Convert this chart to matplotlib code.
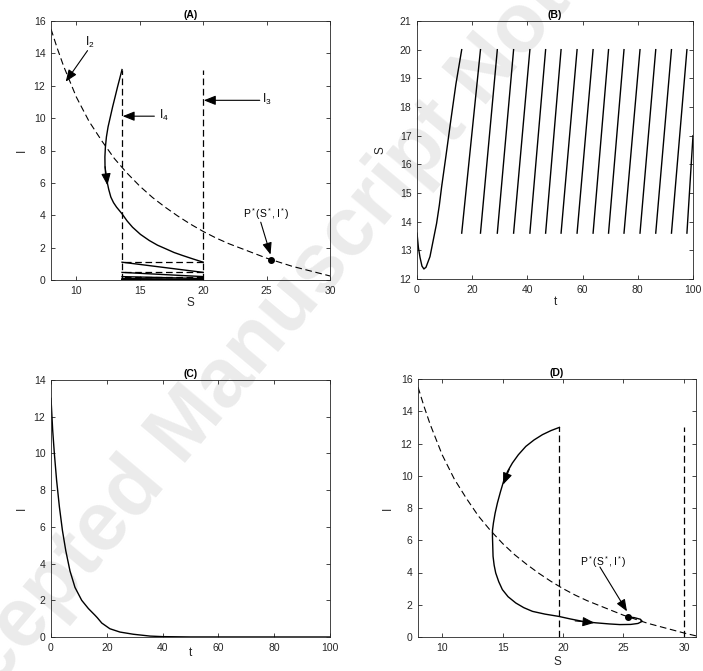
import matplotlib
matplotlib.use('Agg')
import matplotlib.pyplot as plt

plt.rcParams['font.family'] = ['Liberation Sans', 'DejaVu Sans']
plt.rcParams['mathtext.fontset'] = 'custom'
plt.rcParams['mathtext.rm'] = 'Liberation Sans'
plt.rcParams['mathtext.it'] = 'Liberation Sans'
plt.rcParams['lines.scale_dashes'] = False

# ---------------- data ----------------
# dashed isocline I = f(S)
null_S = [8, 8.5, 9, 10, 11, 12, 13, 14, 15, 16, 17, 18, 19, 20, 21, 22, 23, 24, 25, 26, 27, 28, 29, 30, 31]
null_I = [15.5, 14.3, 13.2, 11.3, 9.8, 8.6, 7.5, 6.6, 5.8, 5.1, 4.5, 3.95, 3.45, 3.0, 2.6, 2.25, 1.95,
          1.65, 1.35, 1.1, 0.85, 0.65, 0.45, 0.25, 0.07]
# equilibrium P*
eq_S, eq_I = 25.35, 1.26
I0 = 13.0

# Panel A: impulsive control, thresholds
A_S_low, A_S_high = 13.6, 20.0
trajA_S = [13.6, 13.42, 13.25, 13.05, 12.86, 12.68, 12.5, 12.37, 12.29, 12.25, 12.26, 12.31, 12.4, 12.55,
           12.72, 12.93, 13.17, 13.6, 14.0, 14.43, 15.05, 15.75, 16.4, 17.07, 17.7, 18.39, 19.2, 20.0]
trajA_I = [13.0, 12.45, 11.94, 11.3, 10.7, 10.08, 9.46, 8.84, 8.22, 7.6, 6.98, 6.55, 6.16, 5.6,
           5.12, 4.78, 4.5, 4.09, 3.65, 3.26, 2.82, 2.44, 2.15, 1.92, 1.7, 1.51, 1.3, 1.1]
pulseA_I = [1.1, 0.47, 0.21, 0.09, 0.04, 0.018, 0.008, 0.0035, 0.0015, 0.0007, 0.0003, 0.00013, 0.00006, 0.00003, 0.00001]

# Panel B: S(t)
tB0 = [0, 0.5, 1.1, 1.8, 2.5, 3.26, 4.7, 5.9, 7.1, 8.1, 8.9, 10.5, 12.2, 14.1, 16.2]
SB0 = [13.6, 13.1, 12.75, 12.45, 12.35, 12.41, 12.78, 13.36, 13.94, 14.58, 15.2, 16.3, 17.5, 18.8, 20.0]
pulse_t = [16.2, 23.0, 29.1, 35.0, 40.9, 46.6, 52.2, 58.0, 63.8, 69.4, 75.0, 80.8, 86.5, 92.2, 97.8]
t_end, S_end = 100.0, 17.0

# Panel C: I(t)
tC = [0, 0.6, 1.2, 2.0, 3.0, 4.1, 5.3, 6.8, 8.6, 11.0, 13.4, 15.8, 16.6, 18.2, 21.1, 24.7, 29.5, 35.5, 40, 50, 100]
IC = [13.0, 11.27, 10.0, 8.55, 7.1, 5.8, 4.7, 3.6, 2.7, 2.0, 1.55, 1.18, 1.05, 0.76, 0.45, 0.27, 0.15, 0.05, 0.02, 0.003, 0.0]

# Panel D
D_S_low, D_S_high = 19.7, 30.0
trajD_S = [19.7, 19.0, 18.3, 17.6, 16.92, 16.3, 15.81, 15.42, 15.12, 14.82, 14.57, 14.38, 14.24, 14.16, 14.16,
           14.21, 14.3, 14.43, 14.68, 14.98, 15.45, 16.09, 16.75, 17.47, 18.5, 19.63,
           20.6, 21.62, 22.7, 23.83, 24.7, 25.6, 26.2, 26.55, 26.4, 25.9, 25.35]
trajD_I = [13.0, 12.8, 12.55, 12.22, 11.82, 11.3, 10.79, 10.28, 9.76, 9.0, 8.31, 7.68, 7.07, 6.6, 6.24,
           5.0, 4.45, 3.97, 3.43, 2.94, 2.5, 2.11, 1.82, 1.59, 1.42, 1.28,
           1.12, 0.97, 0.88, 0.81, 0.77, 0.78, 0.84, 0.97, 1.1, 1.2, 1.25]

# ---------------- figure ----------------
W, H = 703, 671
fig = plt.figure(figsize=(W / 100, H / 100), dpi=100)

def add_ax(l, r, t, b):
    return fig.add_axes([l / W, 1 - b / H, (r - l) / W, (b - t) / H])

axA = add_ax(51, 330, 21, 280)
axB = add_ax(417, 693, 21, 279)
axC = add_ax(51, 330, 380, 637)
axD = add_ax(418, 696, 379, 637)

GRAY = '#262626'
LW = 1.0
DASH = (0, (4.8, 2.6))

def style(ax, xlim, ylim, xticks, yticks, title, xlabel, ylabel, xl_y, yl_x):
    ax.set_xlim(xlim)
    ax.set_ylim(ylim)
    ax.set_xticks(xticks)
    ax.set_yticks(yticks)
    ax.tick_params(direction='in', top=True, right=True, length=3, width=0.6,
                   labelsize=7.5, colors=GRAY, pad=4)
    for s in ax.spines.values():
        s.set_color(GRAY)
        s.set_linewidth(0.6)
    ax.set_title(title, fontsize=7.5, fontweight='bold', pad=2.5)
    ax.set_xlabel(xlabel, fontsize=8.5, va='center', color=GRAY)
    ax.xaxis.set_label_coords(0.5, xl_y)
    ax.set_ylabel(ylabel, fontsize=8.5, va='center', color=GRAY)
    ax.yaxis.set_label_coords(yl_x, 0.5)
    ax.patch.set_alpha(0)

def arrow(ax, tail, tip, ms=13):
    ax.annotate('', xy=tip, xytext=tail,
                arrowprops=dict(arrowstyle='-|>,head_length=0.55,head_width=0.22',
                                color='k', lw=0.8, mutation_scale=ms, shrinkA=0, shrinkB=0))

# ---- Panel A ----
axA.plot(null_S, null_I, color='k', lw=0.8, ls=DASH)
axA.plot([A_S_low, A_S_low], [0, I0], color='k', lw=0.9, ls=DASH)
axA.plot([A_S_high, A_S_high], [0, I0], color='k', lw=0.9, ls=DASH)
axA.plot(trajA_S, trajA_I, color='k', lw=LW)
for k in range(len(pulseA_I)):
    axA.plot([A_S_high, A_S_low], [pulseA_I[k], pulseA_I[k]], color='k', lw=0.9, ls=DASH)
    if k + 1 < len(pulseA_I):
        axA.plot([A_S_low, A_S_high], [pulseA_I[k], pulseA_I[k + 1]], color='k', lw=LW)
axA.plot([eq_S], [eq_I], 'o', color='k', ms=4)
arrow(axA, (12.27, 7.0), (12.45, 5.85))
arrow(axA, (10.88, 14.17), (9.16, 12.25))
arrow(axA, (16.15, 10.12), (13.65, 10.12))
arrow(axA, (24.46, 11.1), (20.05, 11.1))
arrow(axA, (24.54, 3.57), (25.31, 1.57))
axA.text(10.7, 14.65, r'$\mathregular{I_2}$', fontsize=8.5, ha='left', va='center')
axA.text(16.55, 10.15, r'$\mathregular{I_4}$', fontsize=8.5, ha='left', va='center')
axA.text(24.6, 11.15, r'$\mathregular{I_3}$', fontsize=8.5, ha='left', va='center')
axA.text(24.95, 4.1, r'$\mathregular{P^*(S^*,I^*)}$', fontsize=7.5, ha='center', va='center')
style(axA, (8, 30), (0, 16), [10, 15, 20, 25, 30], range(0, 17, 2), '(A)', 'S', 'I', -0.09, -0.105)

# ---- Panel B ----
axB.plot(tB0, SB0, color='k', lw=LW)
for k in range(len(pulse_t) - 1):
    axB.plot([pulse_t[k], pulse_t[k + 1]], [A_S_low, A_S_high], color='k', lw=LW)
axB.plot([pulse_t[-1], t_end], [A_S_low, S_end], color='k', lw=LW)
style(axB, (0, 100), (12, 21), range(0, 101, 20), range(12, 22), '(B)', 't', 'S', -0.09, -0.134)

# ---- Panel C ----
axC.plot(tC, IC, color='k', lw=LW)
style(axC, (0, 100), (0, 14), range(0, 101, 20), range(0, 15, 2), '(C)', 't', 'I', -0.062, -0.105)

# ---- Panel D ----
axD.plot(null_S, null_I, color='k', lw=0.8, ls=DASH)
axD.plot([D_S_low, D_S_low], [0, I0], color='k', lw=0.9, ls=DASH)
axD.plot([D_S_high, D_S_high], [0, I0], color='k', lw=0.9, ls=DASH)
axD.plot(trajD_S, trajD_I, color='k', lw=LW)
axD.plot([eq_S], [eq_I], 'o', color='k', ms=4)
arrow(axD, (15.55, 10.4), (15.04, 9.45))
arrow(axD, (21.0, 1.0), (22.6, 0.88))
arrow(axD, (23.05, 4.34), (25.29, 1.59))
axD.text(23.3, 4.65, r'$\mathregular{P^*(S^*,I^*)}$', fontsize=7.5, ha='center', va='center')
style(axD, (8, 31), (0, 16), [10, 15, 20, 25, 30], range(0, 17, 2), '(D)', 'S', 'I', -0.097, -0.107)

# watermark
fig.text(-74 / W, 1 - 772 / H, 'Accepted Manuscript Not Copyedited', fontsize=60, fontweight='bold',
         color='#ebebeb', rotation=50, rotation_mode='anchor', ha='left', va='baseline', zorder=-1)

fig.savefig('out.png', dpi=100)
